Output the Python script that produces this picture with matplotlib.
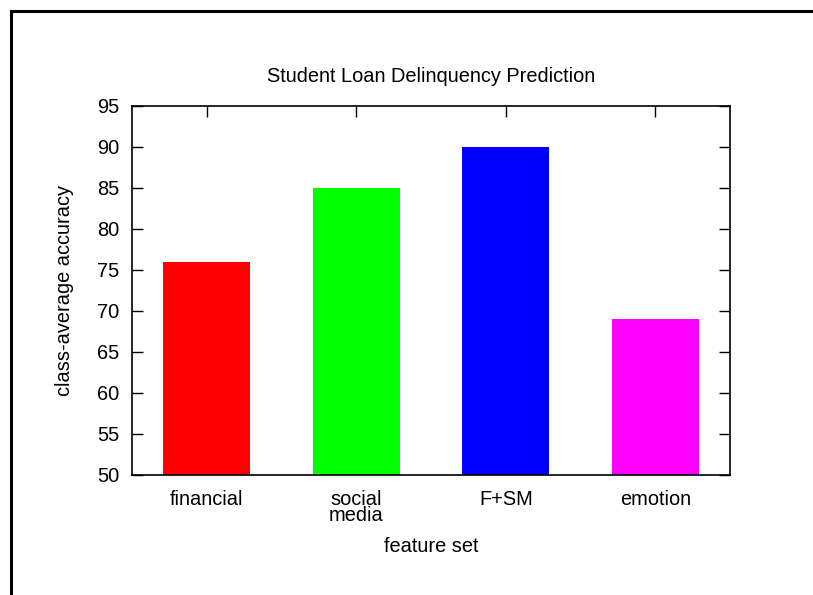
import matplotlib
matplotlib.use("Agg")
import matplotlib.pyplot as plt
from matplotlib.lines import Line2D

categories = ["financial", "social\nmedia", "F+SM", "emotion"]
accuracy = [76, 85, 90, 69]
bar_colors = ["#ff0000", "#00ff00", "#0000ff", "#ff00ff"]
y_ticks = [50, 55, 60, 65, 70, 75, 80, 85, 90, 95]

plt.rcParams["font.family"] = ["Liberation Sans", "DejaVu Sans"]
FS = 14.4

W, H = 813, 595
fig = plt.figure(figsize=(W / 100, H / 100), dpi=100)
ax = fig.add_axes([132 / W, 1 - 475 / H, 598 / W, 369 / H])

x = list(range(len(categories)))
ax.bar(x, accuracy, width=0.58, color=bar_colors, zorder=1)

ax.set_xlim(-0.5, 3.5)
ax.set_ylim(50, 95)
ax.set_yticks(y_ticks)
ax.set_xticks(x)
ax.set_xticklabels(categories, fontsize=FS, linespacing=0.78)

ax.tick_params(axis="y", direction="in", length=8, width=1.0, left=True,
               right=True, labelsize=FS, pad=9, colors="black")
ax.tick_params(axis="x", direction="in", length=8, width=1.0, bottom=False,
               top=True, labelsize=FS, pad=11)
for s in ax.spines.values():
    s.set_linewidth(1.2)
    s.set_zorder(3)

fig.text(431 / W, 1 - 77 / H, "Student Loan Delinquency Prediction",
         ha="center", va="center", fontsize=FS)
fig.text(431 / W, 1 - 547 / H, "feature set", ha="center", va="center",
         fontsize=FS)
fig.text(64 / W, 1 - 290 / H, "class-average accuracy", ha="center",
         va="center", rotation=90, fontsize=FS)

# page frame along the top and left edges
fig.add_artist(Line2D([10.5 / W, 1.0], [1 - 10.5 / H, 1 - 10.5 / H],
                      transform=fig.transFigure, color="black", lw=2.2))
fig.add_artist(Line2D([10.5 / W, 10.5 / W], [0, 1 - 10.5 / H],
                      transform=fig.transFigure, color="black", lw=2.2))

fig.savefig("out.png", dpi=100)
